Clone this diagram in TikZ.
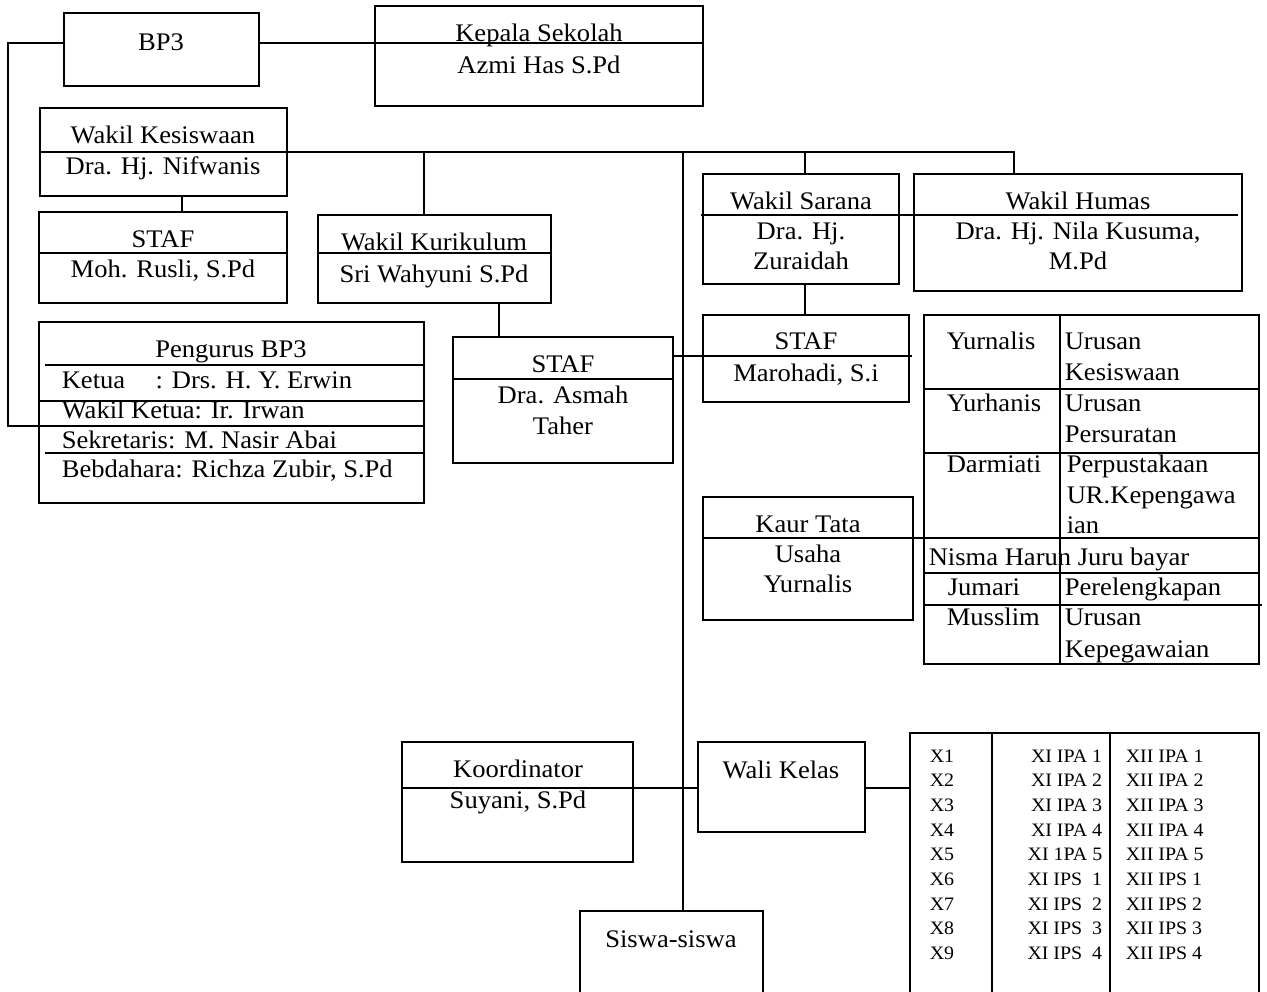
\documentclass[tikz,border=0pt]{standalone}
\usepackage{fontspec}
\setmainfont{Liberation Serif}[FakeStretch=1.05]
\usetikzlibrary{fit}

\begin{document}
\begin{tikzpicture}[x=0.02cm,y=-0.02cm,line width=0.9pt,
  kotak/.style={draw,inner sep=0pt},
  teks/.style={inner sep=0pt,anchor=base,font=\fontsize{14.4}{17}\selectfont},
  teksl/.style={teks,anchor=base west},
  kelasl/.style={inner sep=0pt,anchor=base west,font=\fontsize{10.8}{13}\selectfont},
  kelasr/.style={kelasl,anchor=base east}]
\useasboundingbox (0,0) rectangle (1267,991);
\clip (0,0) rectangle (1267,991);

% kotak
\node[kotak,fit={(64,13) (259,86)}] (bp3) {};
\node[kotak,fit={(375,6) (703,106)}] (kepala) {};
\node[kotak,fit={(40,108) (287,196)}] (kesiswaan) {};
\node[kotak,fit={(39,212) (287,303)}] (stafkes) {};
\node[kotak,fit={(318,215) (551,303)}] (kurikulum) {};
\node[kotak,fit={(39,322) (424,503)}] (pengurus) {};
\node[kotak,fit={(453,337) (673,463)}] (stafkur) {};
\node[kotak,fit={(703,174) (899,284)}] (sarana) {};
\node[kotak,fit={(914,174) (1242,291)}] (humas) {};
\node[kotak,fit={(703,315) (909,402)}] (stafsar) {};
\node[kotak,fit={(924,315) (1259,664)}] (urusan) {};
\node[kotak,fit={(703,497) (913,620)}] (kaur) {};
\node[kotak,fit={(402,742) (633,862)}] (koordinator) {};
\node[kotak,fit={(698,742) (865,832)}] (walikelas) {};
\node[kotak,fit={(580,911) (763,1010)}] (siswa) {};
\node[kotak,fit={(910,733) (1259,1010)}] (kelas) {};

% titik bantu
\coordinate (kiri) at (8,43);
\coordinate (kiribawah) at (8,426);
\coordinate (kesbawah) at (182,0);
\coordinate (kurat) at (424,152);
\coordinate (kurbawah) at (499,0);
\coordinate (tulang) at (683,152);
\coordinate (sarat) at (805,152);
\coordinate (humasat) at (1014,152);
\coordinate (stafgaris) at (912,356);
\coordinate (garissarana) at (701,215);
\coordinate (garishumas) at (1238,215);
\coordinate (garistu) at (0,538);
\coordinate (gariskoor) at (0,788);

% garis
\draw (bp3.west |- kiri) -- (kiri) -- (kiribawah) -- (pengurus.east |- kiribawah);
\draw (bp3.east |- kiri) -- (kepala.east |- kiri);
\draw (kesiswaan.west) -- (humasat) -- (humasat |- humas.north);
\draw (kesiswaan.south -| kesbawah) -- (stafkes.north -| kesbawah);
\draw (kurat) -- (kurat |- kurikulum.north);
\draw (kurikulum.south -| kurbawah) -- (stafkur.north -| kurbawah);
\draw (tulang) -- (tulang |- siswa.north);
\draw (sarat) -- (sarat |- sarana.north);
\draw (sarana.south -| sarat) -- (stafsar.north -| sarat);
\draw (stafkur.east |- stafgaris) -- (stafgaris);
\draw (garissarana) -- (garishumas);
\draw (kaur.west |- garistu) -- (urusan.east |- garistu);
\draw (koordinator.west |- gariskoor) -- (walikelas.west |- gariskoor);
\draw (walikelas.east |- gariskoor) -- (kelas.west |- gariskoor);

% garis dalam kotak
\draw (39,253) -- (287,253);
\draw (318,253) -- (551,253);
\draw (453,379) -- (673,379);
\draw (45,365) -- (424,365);
\draw (39,401) -- (424,401);
\draw (45,453) -- (424,453);
\draw (924,389) -- (1259,389);
\draw (924,453) -- (1259,453);
\draw (924,573) -- (1259,573);
\draw (924,605) -- (1262,605);
\draw (1060,315) -- (1060,664);
\draw (992,733) -- (992,1010);
\draw (1110,733) -- (1110,1010);

% teks
\node[teks] (tbp3) at (161,50) {BP3};
\node[teks] (tkepala) at (539,41) {Kepala Sekolah};
\node[teks] (tazmi) at (539,73) {Azmi Has S.Pd};
\node[teks] (tkes) at (163,143) {Wakil Kesiswaan};
\node[teks] (tnif) at (163,174) {Dra. Hj. Nifwanis};
\node[teks] (tstafa) at (163,247) {STAF};
\node[teks] (trusli) at (163,277) {Moh. Rusli, S.Pd};
\node[teks] (tkur) at (434,250) {Wakil Kurikulum};
\node[teks] (tsri) at (434,282) {Sri Wahyuni S.Pd};
\node[teks] (tpeng) at (231,357) {Pengurus BP3};
\node[teksl] (tketua) at (61,388) {Ketua\hspace{1.2em}: Drs. H. Y. Erwin};
\node[teksl] (twakil) at (61,418) {Wakil Ketua: Ir. Irwan};
\node[teksl] (tsekr) at (61,448) {Sekretaris: M. Nasir Abai};
\node[teksl] (tbend) at (61,477) {Bebdahara: Richza Zubir, S.Pd};
\node[teks] (tstafb) at (563,372) {STAF};
\node[teks] (tasmah) at (563,403) {Dra. Asmah};
\node[teks] (ttaher) at (563,434) {Taher};
\node[teks] (tsarana) at (801,209) {Wakil Sarana};
\node[teks] (tdra) at (801,239) {Dra. Hj.};
\node[teks] (tzur) at (801,269) {Zuraidah};
\node[teks] (thumas) at (1078,209) {Wakil Humas};
\node[teks] (tnila) at (1078,239) {Dra. Hj. Nila Kusuma,};
\node[teks] (tmpd) at (1078,269) {M.Pd};
\node[teks] (tstafc) at (806,349) {STAF};
\node[teks] (tmaro) at (806,381) {Marohadi, S.i};
\node[teks] (tkaur) at (808,532) {Kaur Tata};
\node[teks] (tusaha) at (808,562) {Usaha};
\node[teks] (tyur) at (808,592) {Yurnalis};
\node[teks] (tkoor) at (518,777) {Koordinator};
\node[teks] (tsuy) at (518,808) {Suyani, S.Pd};
\node[teks] (twali) at (781,778) {Wali Kelas};
\node[teks] (tsiswa) at (671,947) {Siswa-siswa};

\node[teksl] (n1) at (946,349) {Yurnalis};
\node[teksl] (n2) at (946,411) {Yurhanis};
\node[teksl] (n3) at (946,472) {Darmiati};
\node[teksl] (n4) at (928,565) {Nisma Harun Juru bayar};
\node[teksl] (n5) at (947,595) {Jumari};
\node[teksl] (n6) at (946,625) {Musslim};
\node[teksl] (u1) at (1064,349) {Urusan};
\node[teksl] (u2) at (1064,380) {Kesiswaan};
\node[teksl] (u3) at (1064,411) {Urusan};
\node[teksl] (u4) at (1064,442) {Persuratan};
\node[teksl] (u5) at (1066,472) {Perpustakaan};
\node[teksl] (u6) at (1066,503) {UR.Kepengawa};
\node[teksl] (u7) at (1066,533) {ian};
\node[teksl] (u8) at (1064,595) {Perelengkapan};
\node[teksl] (u9) at (1064,625) {Urusan};
\begin{scope}
  \clip (1060,600) rectangle (1259,662);
  \node[teksl] (u10) at (1064,657) {Kepegawaian};
\end{scope}

\foreach \a/\b/\c [count=\i from 0] in {X1/XI IPA 1/XII IPA 1,X2/XI IPA 2/XII IPA 2,
    X3/XI IPA 3/XII IPA 3,X4/XI IPA 4/XII IPA 4,X5/XI 1PA 5/XII IPA 5,
    X6/XI IPS\ \ 1/XII IPS 1,X7/XI IPS\ \ 2/XII IPS 2,X8/XI IPS\ \ 3/XII IPS 3,
    X9/XI IPS\ \ 4/XII IPS 4}{
  \node[kelasl] (kx\i) at (929,{762+24.7*\i}) {\a};
  \node[kelasr] (kxi\i) at (1103,{762+24.7*\i}) {\b};
  \node[kelasl] (kxii\i) at (1125,{762+24.7*\i}) {\c};
}
\end{tikzpicture}
\end{document}
